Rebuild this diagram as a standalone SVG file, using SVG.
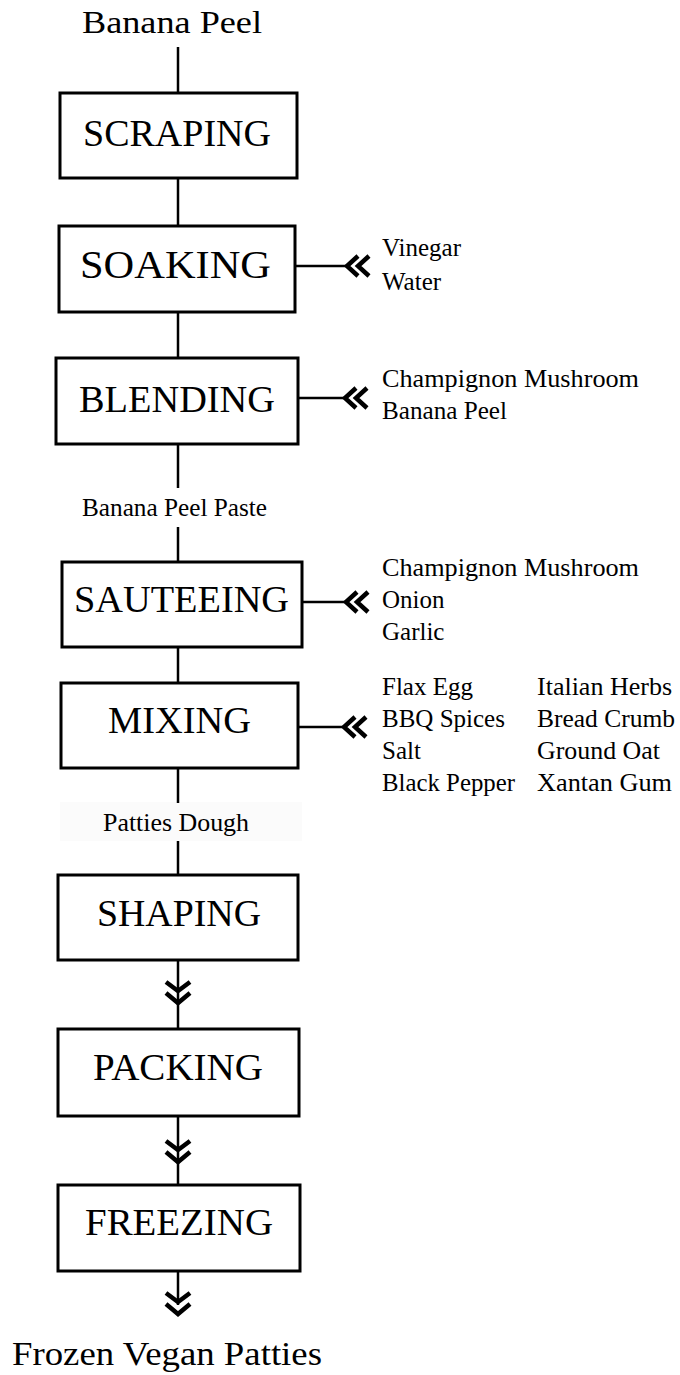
<svg xmlns="http://www.w3.org/2000/svg" xmlns:xlink="http://www.w3.org/1999/xlink" width="680" height="1375" viewBox="0 0 680 1375">
<style>
.box{fill:#fff;stroke:#000;stroke-width:3}
.ln{stroke:#000;stroke-width:2.5;fill:none}
.chev{stroke:#000;stroke-width:4.5;fill:none;stroke-linejoin:miter;stroke-linecap:butt}
.t{font-family:"Liberation Serif","Times New Roman",serif;fill:#000}
.big{font-size:38px}
.ing{font-size:25px}
.mid{font-size:25px}
</style>
<defs>
<path id="chevDown" class="chev" d="M-12,0 L0,9 L12,0 M-12,11 L0,21 L12,11"/>
<path id="chevLeft" class="chev" d="M11,-10 L0,0 L11,10 M22,-10 L11,0 L22,10"/>
</defs>
<rect x="0" y="0" width="680" height="1375" fill="#fff"/>
<rect x="60" y="802" width="242" height="39" fill="#fbfbfb"/>

<g id="connectors">
<line class="ln" x1="178" y1="47" x2="178" y2="93"/>
<line class="ln" x1="178" y1="178" x2="178" y2="226"/>
<line class="ln" x1="178" y1="312" x2="178" y2="358"/>
<line class="ln" x1="178" y1="444" x2="178" y2="488"/>
<line class="ln" x1="178" y1="527" x2="178" y2="562"/>
<line class="ln" x1="178" y1="647" x2="178" y2="683"/>
<line class="ln" x1="178" y1="768" x2="178" y2="803"/>
<line class="ln" x1="178" y1="841" x2="178" y2="875"/>
<line class="ln" x1="178" y1="960" x2="178" y2="1029"/>
<use xlink:href="#chevDown" x="178" y="982"/>
<line class="ln" x1="178" y1="1116" x2="178" y2="1185"/>
<use xlink:href="#chevDown" x="178" y="1141"/>
<line class="ln" x1="178" y1="1271" x2="178" y2="1305"/>
<use xlink:href="#chevDown" x="178" y="1293"/>
<line class="ln" x1="295" y1="266" x2="348" y2="266"/>
<use xlink:href="#chevLeft" x="347" y="266"/>
<line class="ln" x1="298" y1="398" x2="346" y2="398"/>
<use xlink:href="#chevLeft" x="345" y="398"/>
<line class="ln" x1="302" y1="602" x2="347" y2="602"/>
<use xlink:href="#chevLeft" x="346" y="602"/>
<line class="ln" x1="298" y1="727" x2="345" y2="727"/>
<use xlink:href="#chevLeft" x="344" y="727"/>
</g>

<g id="start"><text class="t" x="82" y="33" font-size="32" textLength="180" lengthAdjust="spacingAndGlyphs">Banana Peel</text></g>

<g id="scraping">
<rect class="box" x="60" y="93" width="237" height="85"/>
<text class="t big" x="83" y="146" textLength="188" lengthAdjust="spacingAndGlyphs">SCRAPING</text>
</g>
<g id="soaking">
<rect class="box" x="59" y="226" width="236" height="86"/>
<text class="t" x="80" y="278" font-size="41" textLength="191" lengthAdjust="spacingAndGlyphs">SOAKING</text>
</g>
<g id="soaking-inputs">
<text class="t ing" x="382" y="256">Vinegar</text>
<text class="t ing" x="382" y="290">Water</text>
</g>
<g id="blending">
<rect class="box" x="56" y="358" width="242" height="86"/>
<text class="t big" x="79" y="412" textLength="196" lengthAdjust="spacingAndGlyphs">BLENDING</text>
</g>
<g id="blending-inputs">
<text class="t ing" x="382" y="387" textLength="257" lengthAdjust="spacingAndGlyphs">Champignon Mushroom</text>
<text class="t ing" x="382" y="419" textLength="125" lengthAdjust="spacingAndGlyphs">Banana Peel</text>
</g>
<g id="paste"><text class="t mid" x="82" y="516" textLength="185" lengthAdjust="spacingAndGlyphs">Banana Peel Paste</text></g>
<g id="sauteeing">
<rect class="box" x="62" y="562" width="240" height="85"/>
<text class="t big" x="74" y="612" textLength="215" lengthAdjust="spacingAndGlyphs">SAUTEEING</text>
</g>
<g id="sauteeing-inputs">
<text class="t ing" x="382" y="576" textLength="257" lengthAdjust="spacingAndGlyphs">Champignon Mushroom</text>
<text class="t ing" x="382" y="608">Onion</text>
<text class="t ing" x="382" y="640">Garlic</text>
</g>
<g id="mixing">
<rect class="box" x="61" y="683" width="237" height="85"/>
<text class="t big" x="108" y="733" textLength="143" lengthAdjust="spacingAndGlyphs">MIXING</text>
</g>
<g id="mixing-inputs">
<text class="t ing" x="382" y="695">Flax Egg</text>
<text class="t ing" x="382" y="727">BBQ Spices</text>
<text class="t ing" x="382" y="759">Salt</text>
<text class="t ing" x="382" y="791" textLength="133" lengthAdjust="spacingAndGlyphs">Black Pepper</text>
<text class="t ing" x="537" y="695" textLength="135" lengthAdjust="spacingAndGlyphs">Italian Herbs</text>
<text class="t ing" x="537" y="727" textLength="138" lengthAdjust="spacingAndGlyphs">Bread Crumb</text>
<text class="t ing" x="537" y="759" textLength="123" lengthAdjust="spacingAndGlyphs">Ground Oat</text>
<text class="t ing" x="537" y="791" textLength="135" lengthAdjust="spacingAndGlyphs">Xantan Gum</text>
</g>
<g id="dough"><text class="t mid" x="103" y="831" textLength="146" lengthAdjust="spacingAndGlyphs">Patties Dough</text></g>
<g id="shaping">
<rect class="box" x="58" y="875" width="240" height="85"/>
<text class="t big" x="97" y="926" textLength="164" lengthAdjust="spacingAndGlyphs">SHAPING</text>
</g>
<g id="packing">
<rect class="box" x="58" y="1029" width="241" height="87"/>
<text class="t big" x="93" y="1080" textLength="170" lengthAdjust="spacingAndGlyphs">PACKING</text>
</g>
<g id="freezing">
<rect class="box" x="58" y="1185" width="242" height="86"/>
<text class="t big" x="85" y="1235" textLength="188" lengthAdjust="spacingAndGlyphs">FREEZING</text>
</g>
<g id="end"><text class="t" x="12" y="1365" font-size="34" textLength="310" lengthAdjust="spacingAndGlyphs">Frozen Vegan Patties</text></g>
</svg>
